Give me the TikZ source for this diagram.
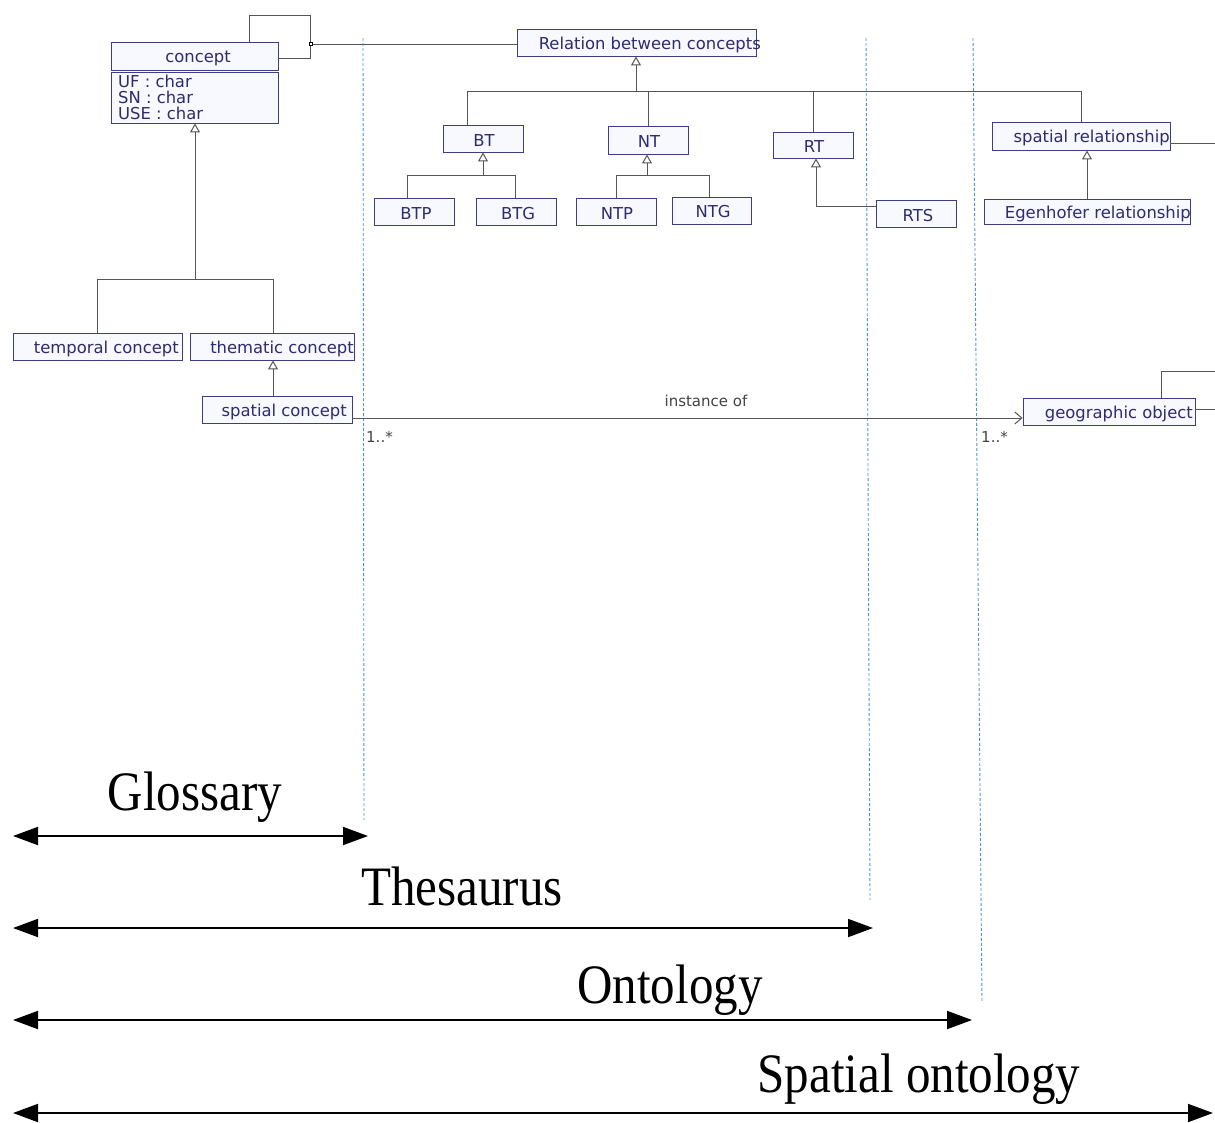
\documentclass[tikz,border=0pt]{standalone}
\usepackage{fontspec}
\setmainfont{Liberation Serif}
\newfontfamily\umlfont{DejaVu Sans}
\usetikzlibrary{arrows.meta,calc}
\definecolor{umltext}{HTML}{2E2B6E}
\definecolor{umlborder}{HTML}{3D3D85}
\definecolor{umlfill}{HTML}{F8F8FF}
\definecolor{conngray}{HTML}{555555}
\definecolor{sepblue}{HTML}{4A94CC}
\definecolor{lblgray}{HTML}{444444}
\begin{document}
\begin{tikzpicture}[x=1pt,y=-1pt,
 umlbox/.style={draw=umlborder, fill=umlfill, line width=0.9pt, inner sep=0pt},
 btext/.style={text=umltext, font=\umlfont\fontsize{16.4}{16}\selectfont, inner sep=0pt},
 conn/.style={draw=conngray, line width=1pt},
 gen/.style={conn, -{Triangle[open, length=9pt, width=10pt]}},
 sepline/.style={draw=sepblue, line width=0.9pt, dash pattern=on 3pt off 2pt},
 spanarrow/.style={line width=1.8pt, {Triangle[length=25pt,width=18pt]}-{Triangle[length=25pt,width=18pt]}},
 big/.style={font=\fontsize{53}{53}\selectfont, inner sep=0pt, anchor=base},
 small/.style={text=lblgray, font=\umlfont\fontsize{15}{15}\selectfont, inner sep=0pt},
]
\useasboundingbox[fill=white] (0,0) rectangle (1215,1122);

% separators
\coordinate (s1a) at (363,38); \coordinate (s1b) at (364,820);
\coordinate (s2a) at (866,38); \coordinate (s2b) at (870,900);
\coordinate (s3a) at (973,38); \coordinate (s3b) at (982,1002);
\draw[sepline] (s1a) -- (s1b);
\draw[sepline] (s2a) -- (s2b);
\draw[sepline] (s3a) -- (s3b);

% boxes
\node[umlbox, minimum width=167pt, minimum height=28pt] (concept) at (194.5,56) {};
\node[btext] (concept-t) at (198,58) {concept};
\node[umlbox, minimum width=167pt, minimum height=51pt] (attrs) at (194.5,97.5) {};
\node[btext, anchor=north west, align=left] (attrs-t) at (118,75) {UF : char\\SN : char\\USE : char};

\node[umlbox, minimum width=239pt, minimum height=27pt] (rel) at (636.5,42.5) {};
\node[btext, anchor=east] (rel-t) at (761,45) {Relation between concepts};

\node[umlbox, minimum width=80pt, minimum height=27pt] (bt) at (483,138.5) {};
\node[btext] (bt-t) at (484,141) {BT};
\node[umlbox, minimum width=80pt, minimum height=28pt] (nt) at (648,140) {};
\node[btext] (nt-t) at (649,142) {NT};
\node[umlbox, minimum width=80pt, minimum height=26pt] (rt) at (813,145) {};
\node[btext] (rt-t) at (814,147) {RT};
\node[umlbox, minimum width=178pt, minimum height=28pt] (sr) at (1081,136) {};
\node[btext, anchor=east] (sr-t) at (1170,138) {spatial relationship};

\node[umlbox, minimum width=80pt, minimum height=27pt] (btp) at (414,211.5) {};
\node[btext] (btp-t) at (416,214) {BTP};
\node[umlbox, minimum width=80pt, minimum height=27pt] (btg) at (516,211.5) {};
\node[btext] (btg-t) at (518,214) {BTG};
\node[umlbox, minimum width=80pt, minimum height=27pt] (ntp) at (616,211.5) {};
\node[btext] (ntp-t) at (617,214) {NTP};
\node[umlbox, minimum width=79pt, minimum height=27pt] (ntg) at (711.5,210.5) {};
\node[btext] (ntg-t) at (713,212) {NTG};
\node[umlbox, minimum width=80pt, minimum height=27pt] (rts) at (916,213.5) {};
\node[btext] (rts-t) at (918,216) {RTS};
\node[umlbox, minimum width=206pt, minimum height=25pt] (eg) at (1087,211.5) {};
\node[btext, anchor=east] (eg-t) at (1191,214) {Egenhofer relationship};

\node[umlbox, minimum width=169pt, minimum height=27pt] (temp) at (97.5,346.5) {};
\node[btext, anchor=east] (temp-t) at (179,349) {temporal concept};
\node[umlbox, minimum width=164pt, minimum height=27pt] (them) at (272,346.5) {};
\node[btext, anchor=east] (them-t) at (354,349) {thematic concept};
\node[umlbox, minimum width=150pt, minimum height=27pt] (sc) at (277,409.5) {};
\node[btext, anchor=east] (sc-t) at (347,412) {spatial concept};
\node[umlbox, minimum width=172pt, minimum height=27pt] (go) at (1109,411.5) {};
\node[btext, anchor=east] (go-t) at (1193,414) {geographic object};

% concept self association
\coordinate (selfA) at (249,15);
\coordinate (selfB) at (310,58);
\draw[conn] (concept.north -| selfA) -- (selfA) -- (selfB |- selfA) -- (selfB) -- (selfB -| concept.east);
\node[draw=black, fill=white, line width=0.6pt, minimum size=3pt, inner sep=0pt] (ac) at (311,44) {};
\draw[conn] (ac.east) -- (rel.west |- ac);

% generalisation: relation tree
\coordinate (relbar) at (636,91);
\coordinate (btdrop) at (467,91);
\draw[conn] (btdrop |- bt.north) -- (btdrop) -- (relbar -| sr.north) -- (sr.north);
\draw[conn] (nt.north) -- (nt.north |- relbar);
\draw[conn] (rt.north) -- (rt.north |- relbar);
\draw[gen] (relbar) -- (rel.south -| relbar);

% BT children
\coordinate (btbar) at (483,175);
\coordinate (btpdrop) at (407,175);
\coordinate (btgdrop) at (515,175);
\draw[conn] (btpdrop |- btp.north) -- (btpdrop) -- (btgdrop) -- (btgdrop |- btg.north);
\draw[gen] (btbar) -- (bt.south);
% NT children
\coordinate (ntbar) at (647,175);
\coordinate (ntpdrop) at (616,175);
\coordinate (ntgdrop) at (709,175);
\draw[conn] (ntpdrop |- ntp.north) -- (ntpdrop) -- (ntgdrop) -- (ntgdrop |- ntg.north);
\draw[gen] (ntbar) -- (nt.south -| ntbar);
% RT - RTS
\coordinate (rtsbend) at (816,206);
\draw[gen] (rts.west |- rtsbend) -- (rtsbend) -- (rt.south -| rtsbend);
% spatial relationship - Egenhofer
\draw[gen] (eg.north) -- (eg.north |- sr.south);
\coordinate (srend) at (1215,143);
\draw[conn] (sr.east |- srend) -- (srend);

% concept tree
\coordinate (cbar) at (195,279);
\coordinate (tempdrop) at (97,279);
\coordinate (themdrop) at (273,279);
\draw[conn] (tempdrop |- temp.north) -- (tempdrop) -- (themdrop) -- (themdrop |- them.north);
\draw[gen] (cbar) -- (attrs.south -| cbar);
\draw[gen] (sc.north -| themdrop) -- (them.south -| themdrop);

% instance of
\coordinate (instY) at (0,418);
\draw[conn, -{Straight Barb[length=7pt, width=12pt]}] (sc.east |- instY) -- (go.west |- instY);
\node[small] (inst) at (706,401) {instance of};
\node[small, anchor=west] (m1) at (366,437) {1..*};
\node[small, anchor=west] (m2) at (981,437) {1..*};

% geographic object self lines
\coordinate (goA) at (1161,371);
\coordinate (goEnd1) at (1215,371);
\coordinate (goEnd2) at (1215,409);
\draw[conn] (go.north -| goA) -- (goA) -- (goEnd1);
\draw[conn] (go.east |- goEnd2) -- (goEnd2);

% span arrows
\coordinate (glL) at (13,836); \coordinate (glR) at (368,836);
\coordinate (thL) at (13,928); \coordinate (thR) at (873,928);
\coordinate (onL) at (13,1020); \coordinate (onR) at (972,1020);
\coordinate (spL) at (13,1113); \coordinate (spR) at (1213,1113);
\draw[spanarrow] (glL) -- (glR);
\draw[spanarrow] (thL) -- (thR);
\draw[spanarrow] (onL) -- (onR);
\draw[spanarrow] (spL) -- (spR);
\node[big] (gl) at (195,810) {\scalebox{0.925}[1.05]{Glossary}};
\node[big] (th) at (462,905) {\scalebox{0.925}[1.05]{Thesaurus}};
\node[big] (on) at (670,1003) {\scalebox{0.925}[1.05]{Ontology}};
\node[big] (sp) at (919,1092) {\scalebox{0.925}[1.05]{Spatial ontology}};
\end{tikzpicture}
\end{document}
